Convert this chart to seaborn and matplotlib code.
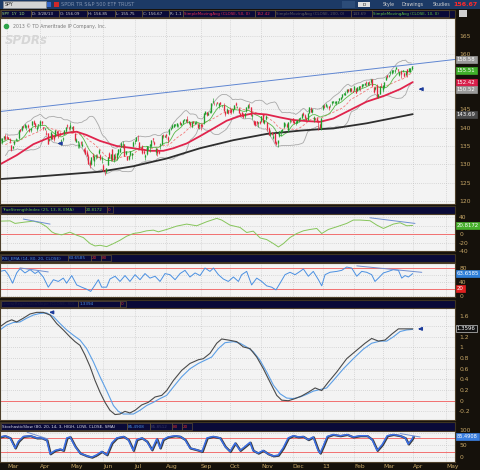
import matplotlib
matplotlib.use('Agg')
import numpy as np
import pandas as pd
import matplotlib.pyplot as plt
import matplotlib.patheffects as pe
from matplotlib.patches import Rectangle
import seaborn as sns

# ---------------- data ----------------
# trading-day index: 0 = 1 Mar 2012, first candle is 24 Feb 2012
first_day = -4
open_ = [136.9, 136.2, 137.1, 137.7,
         137.4, 137.3, 136.8, 135.2, 134.5, 135.6, 136.6, 136.8, 137.2, 139.4, 139.3, 140.4, 140.2, 140.1, 140.5, 139.5, 139.3, 140.6, 141.7, 141.1, 139.6, 140.8,
         140.6, 141.6, 140.2, 139.6, 138.4, 138.3, 136.6, 136.9, 138.1, 137.5, 137.6, 138.9, 138.5, 138.4, 136.4, 136.8, 138.3, 139.1, 140.6, 140.1,
         139.8, 140.0, 140.3, 138.3, 136.1, 136.1, 134.9, 136.0, 134.9, 134.2, 133.8, 133.2, 132.3, 130.5, 130.0, 132.4, 131.0, 132.4, 132.3, 133.2, 132.4, 131.5,
         129.6, 128.3, 127.9, 129.8, 133.1, 131.4, 134.1, 131.3, 132.2, 131.7, 132.9, 133.5, 134.8, 135.4, 135.3, 132.8, 132.3, 131.5, 132.6, 132.6, 135.1,
         136.3, 136.5, 136.9, 136.0, 134.4, 134.8, 133.5, 132.1, 132.8, 134.4, 135.0, 135.0, 137.0, 136.1, 133.4, 134.2, 133.5, 135.3, 135.6, 137.8, 137.5,
         138.2, 137.3, 138.2, 139.6, 140.0, 140.3, 140.7, 140.4, 140.9, 141.3, 140.8, 141.2, 142.2, 141.9, 142.3, 141.4, 141.3, 140.3, 141.7, 141.1, 141.4, 140.9, 140.4,
         140.8, 140.5, 141.2, 143.8, 144.1, 143.5, 144.3, 144.4, 147.0, 146.7, 146.4, 146.8, 146.0, 146.9, 145.8, 146.2, 144.3, 144.1, 144.6,
         144.4, 144.9, 144.6, 145.2, 146.5, 145.6, 145.3, 143.9, 144.1, 143.3, 143.2, 144.6, 145.4, 145.9, 145.6, 143.2, 141.8, 141.6, 141.6, 141.3, 141.7,
         141.7, 143.5, 141.4, 142.3, 141.3, 139.7, 137.9, 138.6, 137.3, 138.4, 135.9, 135.7, 137.6, 138.8, 139.1, 140.1, 140.9, 140.9, 139.4, 141.8, 142.1,
         142.5, 141.6, 141.3, 141.4, 142.1, 142.3, 142.7, 143.9, 143.4, 142.5, 142.2, 144.0, 145.3, 144.4, 142.0, 142.6, 142.6, 141.8, 141.0, 139.7,
         145.1, 145.9, 145.9, 145.9, 145.7, 145.9, 146.8, 147.0, 146.8, 146.6, 146.9, 147.6, 147.9, 148.4, 149.2, 149.0, 149.6, 150.3, 149.9, 150.6, 149.9,
         150.3, 150.6, 150.0, 150.5, 151.2, 151.2, 151.7, 151.7, 152.2, 151.7, 152.4, 152.4, 153.2, 150.9, 150.6, 151.6, 148.4, 149.3, 151.3,
         150.4, 151.1, 152.9, 154.2, 154.0, 155.0, 154.9, 155.5, 155.5, 156.1, 155.9, 154.3, 155.3, 155.5, 154.9, 154.4, 155.8, 155.4, 155.3, 156.1]
high = [137.2, 137.3, 137.7, 138.2,
        137.9, 137.5, 137.1, 135.4, 135.1, 136.5, 137.2, 137.0, 139.5, 139.7, 140.4, 140.6, 141.1, 140.6, 141.0, 139.9, 140.0, 141.7, 142.0, 141.4, 140.5, 140.9,
        142.0, 141.9, 140.3, 140.0, 139.5, 138.5, 137.0, 138.7, 138.2, 137.9, 139.3, 139.0, 139.5, 138.9, 136.8, 137.4, 139.3, 140.3, 140.9, 140.3,
        141.6, 140.3, 140.5, 138.4, 137.1, 136.5, 136.0, 136.5, 136.3, 134.6, 134.7, 134.0, 132.7, 131.3, 132.1, 133.0, 132.3, 132.8, 132.8, 134.1, 132.7, 132.3,
        130.0, 128.8, 129.1, 131.9, 133.3, 132.9, 134.3, 132.6, 133.0, 133.2, 134.2, 134.6, 136.0, 136.3, 135.6, 133.6, 132.4, 132.5, 133.5, 133.1, 136.3,
        136.7, 137.5, 137.9, 136.0, 134.7, 135.2, 134.1, 132.7, 134.9, 134.9, 135.6, 136.6, 137.3, 136.3, 134.5, 134.4, 134.0, 135.7, 138.0, 138.2, 138.1,
        138.4, 137.8, 139.7, 140.1, 141.0, 141.0, 141.1, 141.2, 141.1, 141.7, 141.2, 142.2, 142.3, 142.2, 143.1, 141.9, 141.5, 141.7, 141.9, 141.6, 141.7, 141.0, 141.3,
        141.0, 141.0, 143.9, 144.4, 144.4, 144.3, 144.6, 146.8, 148.1, 147.0, 146.7, 147.1, 146.6, 147.0, 146.3, 146.8, 144.4, 145.4, 144.9,
        145.6, 145.1, 145.2, 146.2, 147.1, 146.0, 145.5, 144.1, 144.3, 143.9, 144.1, 145.7, 146.4, 146.6, 145.6, 143.8, 142.0, 141.9, 141.9, 141.6, 141.8,
        143.1, 143.7, 142.1, 143.4, 141.4, 140.2, 139.3, 138.9, 138.7, 138.6, 136.4, 136.4, 139.2, 139.3, 139.6, 141.4, 141.3, 141.4, 141.5, 142.3, 142.2,
        142.6, 141.9, 142.1, 142.0, 142.7, 142.9, 144.0, 144.2, 143.8, 142.8, 143.9, 145.6, 145.6, 145.0, 143.2, 142.7, 142.8, 142.1, 141.4, 142.6,
        146.2, 146.4, 146.6, 146.1, 145.9, 146.4, 147.1, 147.2, 147.2, 147.2, 147.2, 148.2, 148.3, 149.1, 149.4, 149.9, 150.4, 150.5, 150.8, 150.8, 150.4,
        151.4, 150.9, 151.2, 151.3, 151.4, 151.9, 151.9, 152.3, 152.6, 152.4, 152.6, 153.3, 153.3, 151.2, 151.2, 152.0, 149.3, 151.5, 152.2,
        151.5, 152.5, 154.2, 154.3, 154.4, 155.4, 155.7, 155.8, 156.0, 156.5, 156.0, 155.5, 155.6, 155.8, 155.3, 155.3, 156.0, 156.3, 156.3, 156.9]
low = [136.5, 135.5, 136.7, 136.6,
       137.0, 136.8, 135.9, 133.6, 134.3, 135.4, 136.4, 136.3, 137.0, 138.7, 139.1, 140.0, 139.9, 139.5, 140.0, 138.8, 138.8, 140.4, 141.0, 139.9, 139.1, 139.8,
       140.0, 140.6, 139.3, 139.4, 138.1, 135.6, 136.4, 136.8, 136.8, 136.5, 137.5, 138.4, 137.3, 137.9, 135.3, 136.5, 138.2, 138.8, 140.0, 139.5,
       139.5, 139.6, 138.7, 136.5, 136.0, 134.6, 134.4, 135.3, 134.8, 133.4, 132.7, 132.2, 130.2, 129.1, 129.8, 131.1, 129.6, 131.4, 131.7, 132.7, 131.3, 130.3,
       128.1, 127.1, 127.7, 129.7, 131.7, 130.9, 131.0, 130.7, 131.2, 131.2, 132.5, 133.3, 134.7, 134.5, 132.3, 132.5, 131.1, 131.1, 132.4, 131.5, 134.8,
       135.5, 136.4, 136.4, 134.2, 133.9, 132.8, 132.7, 131.2, 132.6, 134.0, 133.5, 134.8, 136.2, 135.3, 132.5, 132.3, 132.8, 134.2, 135.4, 137.2, 137.4,
       137.1, 135.7, 138.0, 139.4, 139.8, 140.1, 140.5, 140.2, 140.3, 140.6, 140.6, 141.0, 141.8, 141.6, 141.4, 141.0, 140.4, 140.1, 141.2, 140.9, 141.0, 139.8, 139.7,
       139.4, 140.1, 141.0, 143.6, 143.3, 143.4, 143.9, 144.1, 146.6, 146.3, 146.0, 146.4, 145.4, 146.2, 145.6, 144.5, 143.2, 143.9, 143.7,
       144.0, 143.8, 144.0, 145.1, 145.9, 145.5, 144.0, 143.1, 143.2, 142.6, 142.7, 144.4, 145.3, 145.4, 143.2, 142.5, 140.8, 140.5, 140.7, 140.3, 140.9,
       141.6, 141.3, 141.0, 142.0, 139.0, 137.9, 137.6, 137.9, 137.0, 135.8, 135.3, 134.7, 137.5, 137.8, 138.8, 140.0, 140.4, 140.2, 138.9, 141.3, 141.6,
       141.4, 140.9, 140.6, 141.2, 141.6, 142.3, 142.7, 143.2, 142.3, 142.0, 142.1, 143.9, 144.3, 144.1, 141.5, 142.1, 141.5, 139.5, 139.9, 139.5,
       144.7, 145.3, 145.7, 145.4, 144.9, 145.7, 146.1, 146.6, 146.6, 146.3, 146.6, 147.4, 147.6, 148.0, 148.9, 148.9, 149.4, 149.8, 149.8, 149.8, 149.7,
       150.1, 149.4, 149.9, 150.3, 149.9, 151.1, 151.3, 151.6, 151.5, 151.6, 151.6, 152.3, 151.3, 149.4, 150.2, 148.1, 148.0, 149.1, 151.1,
       149.8, 150.9, 152.9, 153.5, 153.8, 154.4, 154.7, 154.9, 155.0, 156.0, 155.3, 154.1, 153.6, 155.1, 153.8, 154.3, 153.9, 155.2, 155.1, 155.8]
close = [136.9, 137.0, 137.5, 137.0,
         137.3, 136.9, 136.3, 133.9, 134.9, 136.3, 136.8, 136.8, 139.3, 139.2, 140.3, 140.3, 140.9, 140.4, 140.2, 139.2, 139.7, 141.6, 141.1, 140.4, 140.2, 140.8,
         141.8, 141.3, 139.9, 139.8, 138.2, 135.6, 136.7, 138.6, 136.9, 136.9, 139.2, 138.6, 137.8, 137.9, 136.6, 137.0, 139.2, 140.2, 140.4, 139.9,
         140.6, 140.1, 138.9, 136.6, 136.7, 136.2, 135.4, 135.7, 135.3, 133.6, 132.9, 132.4, 130.2, 129.7, 131.9, 132.0, 132.2, 132.4, 132.1, 133.7, 131.5, 131.5,
         128.2, 128.1, 128.9, 131.9, 131.8, 132.8, 131.1, 132.6, 131.7, 133.0, 134.1, 134.3, 135.6, 135.4, 132.4, 133.4, 131.3, 132.3, 133.4, 133.1, 136.1,
         136.5, 137.4, 136.8, 134.6, 134.3, 133.2, 133.2, 132.5, 134.8, 134.4, 135.4, 136.5, 136.9, 135.5, 134.3, 133.2, 133.1, 135.4, 137.9, 137.7, 137.7,
         137.6, 136.6, 139.4, 139.7, 140.6, 140.8, 140.9, 141.2, 141.0, 140.9, 141.1, 142.1, 142.2, 142.2, 141.7, 141.7, 140.6, 141.5, 141.4, 141.3, 141.4, 139.9, 140.7,
         140.5, 140.4, 143.8, 144.3, 143.4, 143.9, 144.3, 146.6, 147.2, 146.6, 146.4, 146.6, 146.5, 146.4, 145.9, 144.5, 143.7, 145.0, 143.9,
         144.3, 144.4, 145.0, 146.1, 146.1, 145.6, 144.1, 143.2, 143.2, 142.8, 144.0, 145.6, 146.2, 145.8, 143.4, 143.4, 141.0, 140.6, 141.2, 141.3, 141.4,
         143.0, 141.6, 141.9, 143.0, 139.7, 138.0, 138.2, 138.2, 137.7, 135.9, 135.6, 136.4, 139.1, 139.2, 139.5, 141.4, 141.0, 140.3, 141.4, 142.0, 142.0,
         141.5, 141.3, 141.5, 141.9, 142.4, 142.5, 143.5, 143.5, 142.6, 142.1, 143.8, 145.4, 144.3, 145.0, 142.8, 142.4, 141.8, 141.6, 140.0, 142.4,
         146.1, 145.7, 146.4, 145.9, 145.5, 145.9, 147.1, 147.1, 147.0, 147.1, 147.1, 148.0, 148.3, 149.1, 149.4, 149.4, 150.3, 150.1, 150.7, 150.1, 149.7,
         151.2, 149.5, 151.0, 151.2, 151.0, 151.8, 151.8, 152.0, 152.1, 152.3, 152.1, 153.2, 151.3, 149.8, 151.1, 148.1, 149.1, 151.3, 151.2,
         151.4, 152.3, 153.8, 153.9, 154.3, 155.1, 155.7, 155.5, 155.7, 156.4, 155.8, 155.0, 154.5, 155.7, 154.0, 155.3, 154.8, 156.2, 156.2, 156.7]
# closes of the 16 sessions before the first candle (for the 10/20-day averages)
warmup_close = [132.0, 132.2, 134.4, 134.4, 134.6, 134.9, 135.3, 134.4, 135.3, 135.2, 134.6, 135.9, 136.2, 136.4, 136.0, 136.5]

sma50_day = [-4.6, 6.5, 17.6, 28.7, 39.7, 46.4, 53.0, 61.9, 73.0, 84.1, 95.1, 104.0, 110.7, 119.5, 128.4,
             137.3, 146.1, 155.0, 163.8, 172.7, 181.6, 190.4, 199.3, 208.2, 217.0, 228.1, 239.2, 250.3, 261.4, 269.8]
sma50_val = [130.0, 132.5, 135.5, 137.4, 138.6, 138.9, 138.0, 136.4, 135.0, 134.4, 133.7, 133.7, 134.4, 135.7, 137.7,
             139.8, 141.9, 143.2, 143.9, 143.6, 142.8, 142.1, 141.8, 141.6, 142.5, 144.8, 147.1, 148.6, 150.5, 152.42]
sma200_day = [-4.6, 17.6, 39.7, 61.9, 84.1, 106.2, 128.4, 150.6, 172.7, 194.9, 208.2, 217.0, 239.2, 250.3, 261.4, 269.8]
sma200_val = [126.0, 126.6, 127.3, 128.0, 129.5, 131.6, 134.4, 136.6, 138.3, 139.2, 139.6, 139.8, 141.2, 142.1, 143.0, 143.69]
trend_day = [-4.6, 297.9]
trend_val = [144.4, 158.6]

tsi_day = [-4.6, 2.1, 5.4, 12.0, 17.6, 22.0, 26.4, 29.8, 32.0, 36.4, 41.9, 46.4, 50.8, 55.3, 58.6, 61.9, 66.3, 70.8, 75.2, 79.6,
           84.1, 88.5, 92.9, 97.4, 100.7, 106.2, 112.9, 119.5, 126.2, 132.8, 139.5, 142.8, 148.3, 155.0, 159.4, 163.8, 168.3, 172.7,
           177.2, 180.5, 183.8, 188.2, 192.7, 197.1, 201.5, 206.0, 209.3, 213.7, 219.3, 225.9, 230.3, 234.8, 241.4, 245.9, 250.3,
           256.9, 261.4, 265.8, 269.8]
tsi_val = [31, 31.7, 25.6, 28.8, 31, 27, 17.6, 5.6, 1.6, -1.6, 4.8, -2.4, -8, -22.4, -28, -26.4, -29.6, -22.4, -14.4, -4.8,
           1.6, 4, 8, 9.6, 5.6, 11.2, 19.2, 24, 20, 29.6, 37.6, 33.6, 21.6, 16, 4, 7.2, -8.8, -12.8,
           -22.4, -30.4, -22.4, -8, 1.6, 8, 11.2, 13.6, 1.6, 11.2, 17.6, 25.6, 33.6, 33.6, 32, 21.6, 13.6,
           24, 27.2, 20, 20.8]
rsi_day = [-4.6, -1.3, 0.9, 3.8, 6.5, 8.7, 12.0, 15.4, 18.7, 20.9, 24.2, 27.5, 30.9, 34.2, 37.5, 39.7, 43.1, 46.4, 49.7, 53.0,
           55.7, 58.6, 60.8, 63.0, 66.3, 68.5, 71.9, 75.2, 78.5, 81.8, 85.2, 88.5, 91.8, 95.1, 98.5, 101.8, 105.1, 108.4, 111.8, 115.1,
           118.4, 121.7, 125.1, 128.4, 131.7, 135.0, 137.3, 140.6, 143.9, 147.2, 150.6, 153.9, 156.1, 159.4, 162.7, 166.1, 169.4, 172.7, 176.0, 178.9,
           181.6, 184.9, 188.2, 191.6, 194.9, 197.1, 200.4, 203.7, 207.1, 209.3, 211.5, 214.8, 219.3, 222.6, 225.9, 229.2, 232.6, 235.9, 239.2, 242.5,
           244.7, 247.0, 250.3, 253.6, 256.9, 260.3, 262.5, 264.7, 266.9, 269.8]
rsi_val = [70, 73, 60.5, 36, 65.5, 78, 65.5, 75, 64, 70, 53.8, 24.5, 46, 41, 50.6, 36, 58, 31, 24.5, 18.7,
           12.3, 31, 46, 24.5, 24.5, 48, 56, 41, 58, 41, 60.5, 46, 63.7, 50.6, 56, 41, 63.7, 60.5, 46, 63.7,
           73, 53.8, 65.5, 58, 79.6, 70, 79.6, 60.5, 48, 41, 53.8, 41, 60.5, 70, 31, 50.6, 41, 28.3, 24.5, 16.7,
           36, 60.5, 67.4, 60.5, 70, 77, 56, 70, 46, 28.3, 60.5, 67.4, 70, 73, 82.5, 79.6, 56, 70, 67.4, 60.5,
           41, 50.6, 65.5, 70, 75, 73, 50.6, 58, 53.8, 63.7]
osc_day = [-4.6, -0.2, 3.2, 6.5, 10.9, 15.4, 19.8, 24.2, 28.7, 33.1, 37.5, 41.9, 45.3, 48.6, 51.9, 55.3, 58.6, 61.9, 65.2, 68.5,
           71.9, 75.2, 78.5, 81.8, 85.2, 89.6, 94.0, 98.5, 102.9, 106.2, 110.7, 116.2, 121.7, 127.3, 130.6, 135.0, 139.5, 142.8, 147.2, 152.8,
           157.2, 161.6, 166.1, 170.5, 174.9, 179.4, 182.7, 187.1, 191.6, 196.0, 200.4, 204.9, 209.3, 213.7, 219.3, 225.9, 232.6, 238.1, 242.5, 247.0,
           251.4, 255.8, 260.3, 264.7, 269.8]
osc_val = [1.39, 1.48, 1.52, 1.48, 1.55, 1.63, 1.66, 1.66, 1.61, 1.45, 1.33, 1.20, 1.11, 1.04, 0.86, 0.64, 0.38, 0.16, -0.03, -0.18,
           -0.26, -0.25, -0.20, -0.23, -0.18, -0.08, -0.03, 0.07, 0.10, 0.19, 0.38, 0.57, 0.70, 0.77, 0.79, 0.89, 1.08, 1.16, 1.14, 1.11,
           1.01, 0.98, 0.82, 0.60, 0.35, 0.10, 0.01, 0.0, 0.04, 0.09, 0.16, 0.24, 0.19, 0.35, 0.54, 0.79, 0.95, 1.08, 1.17, 1.12,
           1.14, 1.25, 1.35, 1.35, 1.35]
osc_sig_day = [-4.6, -0.2, 4.3, 8.7, 13.1, 17.6, 22.0, 26.4, 30.9, 35.3, 39.7, 44.2, 48.6, 53.0, 57.5, 61.9, 66.3, 70.8, 74.1, 77.4,
               80.7, 84.1, 88.5, 92.9, 97.4, 101.8, 106.2, 110.7, 116.2, 121.7, 127.3, 131.7, 136.1, 140.6, 145.0, 150.6, 155.0, 159.4, 163.8, 168.3,
               172.7, 177.2, 181.6, 186.0, 190.4, 194.9, 199.3, 203.7, 208.2, 212.6, 217.0, 223.7, 230.3, 237.0, 242.5, 248.1, 252.5, 256.9, 261.4, 265.8, 269.8]
osc_sig_val = [1.33, 1.42, 1.47, 1.48, 1.55, 1.61, 1.64, 1.65, 1.58, 1.45, 1.33, 1.23, 1.14, 0.98, 0.73, 0.45, 0.19, -0.09, -0.20, -0.25,
               -0.25, -0.25, -0.18, -0.09, -0.03, 0.04, 0.10, 0.26, 0.45, 0.60, 0.70, 0.76, 0.82, 0.98, 1.09, 1.11, 1.08, 1.01, 0.92, 0.76,
               0.54, 0.29, 0.13, 0.05, 0.04, 0.07, 0.12, 0.18, 0.21, 0.24, 0.38, 0.60, 0.79, 0.97, 1.08, 1.12, 1.12, 1.20, 1.30, 1.33, 1.34]
stoch_day = [-4.6, -1.3, 2.1, 5.4, 7.6, 10.9, 15.4, 19.8, 23.1, 26.5, 28.7, 32.0, 35.3, 37.5, 39.8, 42.0, 45.3, 48.6, 53.1, 56.4,
             59.7, 63.0, 66.4, 69.7, 73.0, 77.4, 80.7, 84.0, 86.3, 89.6, 93.0, 96.3, 99.6, 101.8, 103.8, 107.1, 111.8, 115.1, 118.4, 121.7,
             126.4, 129.7, 133.0, 137.0, 141.7, 145.0, 148.3, 151.7, 155.0, 158.3, 161.6, 163.6, 167.0, 170.3, 173.6, 177.0, 180.3, 183.6, 187.0, 190.3,
             193.6, 196.9, 200.3, 203.6, 206.9, 208.2, 210.2, 212.9, 216.8, 221.5, 226.1, 230.1, 234.8, 239.4, 242.8, 246.1, 249.4, 252.8, 256.8, 261.4,
             264.8, 266.8, 269.4, 270.1]
stoch_val = [83, 87.5, 79, 37.5, 65, 85, 88, 79, 79, 70, 13.8, 27.7, 33, 27.7, 79, 83, 44, 16.5, 5.4, 0,
             9.6, 23.5, 9.6, 58, 79, 85, 72, 27.7, 72, 79, 65, 30, 75, 37.5, 72, 83, 88, 85, 72, 37.5,
             30, 23.5, 79, 85, 79, 44, 23.5, 58, 27.7, 44, 61, 27.7, 16.5, 27.7, 13.8, 5.4, 8, 37.5, 79, 88,
             83, 85, 72, 83, 27.7, 16.5, 44, 85, 93, 88, 93, 83, 88, 88, 72, 27.7, 51, 88, 93, 88,
             79, 54, 75, 85]

# hand-drawn trend lines and arrows (day, value)
tsi_lines = [[(10.9, 36), (28.7, 24)], [(241.4, 39), (271.3, 25.6)]]
rsi_lines = [[(8.7, 80), (27.5, 68.4)], [(232.6, 85.9), (275.8, 67.3)]]
stoch_lines = [[(13.4, 102.5), (27.3, 75)], [(261.4, 97), (274.7, 83)]]
main_arrows = [(32.0, 135.7), (272.0, 150.5)]
osc_arrows = [(26.4, 1.66), (271.5, 1.35)]

month_day = [0, 22, 42, 64, 85, 106, 129, 148, 169, 190, 210, 231, 250, 270, 292]
month_label = ['Mar', 'Apr', 'May', 'Jun', 'Jul', 'Aug', 'Sep', 'Oct', 'Nov', 'Dec', '13', 'Feb', 'Mar', 'Apr', 'May']

# axis ticks (labels hidden where a value tag covers them in the reference)
price_ticks = [120, 125, 130, 135, 140, 145, 150, 155, 160, 165]
price_tick_labels = ['120', '125', '130', '135', '140', '145', '', '', '160', '165']
tsi_ticks = [-40, -20, 0, 20, 40]
tsi_tick_labels = ['-40', '-20', '0', '', '40']
rsi_ticks = [0, 20, 40, 60, 80]
rsi_tick_labels = ['0', '', '40', '', '80']
osc_ticks = [-0.2, 0, 0.2, 0.4, 0.6, 0.8, 1.0, 1.2, 1.4, 1.6]
osc_tick_labels = ['-0.2', '0', '0.2', '0.4', '0.6', '0.8', '1', '1.2', '', '1.6']
stoch_ticks = [0, 50, 100]
stoch_tick_labels = ['0', '50', '100']

price_tags = [(158.58, '158.58', '#9a9a9a'), (155.51, '155.51', '#3fae2a'), (152.42, '152.42', '#d81e4a'),
              (150.52, '150.52', '#9a9a9a'), (143.69, '143.69', '#4a4a4a')]

for a, b in [(open_, close), (high, low), (open_, high), (tsi_day, tsi_val), (rsi_day, rsi_val), (osc_day, osc_val),
             (osc_sig_day, osc_sig_val), (stoch_day, stoch_val), (sma50_day, sma50_val), (sma200_day, sma200_val)]:
    assert len(a) == len(b), (len(a), len(b))

# ---------------- style ----------------
sns.set_style('white')
plt.rcParams['font.family'] = ['DejaVu Sans']

W, H = 480, 470
BG = '#15110b'
PANEL = '#f3f3f3'
GRID = '#bdbdbd'
TICKC = '#c8a868'
XL = (-4.59, 297.9)

fig = plt.figure(figsize=(W / 100, H / 100), dpi=100, facecolor=BG)


def rect(x0, y0, x1, y1):
    return [x0 / W, 1 - y1 / H, (x1 - x0) / W, (y1 - y0) / H]


ov = fig.add_axes([0, 0, 1, 1])
ov.set_xlim(0, W)
ov.set_ylim(H, 0)
ov.axis('off')


def box(x0, y0, x1, y1, fc, ec='none', lw=0.6):
    ov.add_patch(Rectangle((x0, y0), x1 - x0, y1 - y0, fc=fc, ec=ec, lw=lw))


def header(y0, y1, cells, fs=3.0):
    box(0, y0, 455, y1, '#0a0a38', '#3e3420', 0.8)
    for x0, x1, s, c in cells:
        box(x0, y0 + 0.8, x1, y1 - 0.8, 'none', '#5a4c34', 0.5)
        ov.text(x0 + 1.2, (y0 + y1) / 2 + 0.3, s, color=c, fontsize=fs, va='center', ha='left')


def panel(y0, y1, ylim, ticks, labels):
    ax = fig.add_axes(rect(0, y0, 455, y1))
    ax.set_facecolor(PANEL)
    ax.set_xlim(*XL)
    ax.set_ylim(*ylim)
    ax.set_xticks(month_day)
    ax.set_xticklabels([])
    ax.set_yticks(ticks)
    ax.set_yticklabels(labels)
    ax.yaxis.tick_right()
    ax.tick_params(axis='y', length=0, pad=3, labelsize=4.3, labelcolor=TICKC)
    ax.tick_params(axis='x', length=0)
    ax.grid(True, color=GRID, ls=(0, (1, 2)), lw=0.5)
    for s in ax.spines.values():
        s.set_color('#4d3f2a')
        s.set_linewidth(0.8)
    return ax


def tag(ax, y, s, fc, tc='white', ec=None, fs=3.9):
    ax.text(1.004, y, s, transform=ax.get_yaxis_transform(), fontsize=fs, color=tc, va='center', ha='left',
            bbox=dict(boxstyle='square,pad=0.2', fc=fc, ec=ec or fc, lw=0.5), clip_on=False, zorder=10)


def line(ax, x, y, color, lw, **kw):
    sns.lineplot(x=x, y=y, ax=ax, color=color, lw=lw, legend=False, estimator=None, sort=False, **kw)
    ax.set_xlabel('')
    ax.set_ylabel('')


# ---------- top toolbar and info bar ----------
box(0, 0, W, 9, '#1c3a66')
box(3, 1.2, 46, 7.6, '#d4d4d4', '#8a8a8a', 0.4)
ov.text(4.5, 4.6, 'SPY', fontsize=3.4, color='#202020', va='center')
box(47, 1.5, 51, 7.3, '#3566c8')
box(54, 1.8, 59, 7.0, '#d02828')
ov.text(61, 4.6, 'SPDR TR S&P 500 ETF TRUST', fontsize=3.6, color='#8092b0', va='center')
box(342, 1.2, 355, 7.6, '#2c4c78')
box(358, 1.5, 370, 7.3, '#e0e0e0')
ov.text(364, 4.6, 'D', fontsize=3.2, color='#202020', va='center', ha='center')
ov.text(383, 4.6, 'Style', fontsize=3.4, color='#d0d0d0', va='center')
ov.text(402, 4.6, 'Drawings', fontsize=3.4, color='#d0d0d0', va='center')
ov.text(433, 4.6, 'Studies', fontsize=3.4, color='#d0d0d0', va='center')
ov.text(453, 4.8, '156.67', fontsize=4.6, color='#ff2a2a', va='center', fontweight='bold')

header(9.5, 17.5, [
    (1, 31, 'SPY  1Y  1D', '#9be07a'),
    (31, 59, 'D: 3/28/13', '#c8c8c8'),
    (59, 87, 'O: 156.09', '#c8c8c8'),
    (87, 115, 'H: 156.85', '#c8c8c8'),
    (115, 142, 'L: 155.75', '#c8c8c8'),
    (142, 169, 'C: 156.67', '#c8c8c8'),
    (169, 183, 'R: 1.1', '#c8c8c8'),
    (183, 255, 'SimpleMovingAvg (CLOSE, 50, 0)', '#e02a52'),
    (255, 275, '152.42', '#e02a52'),
    (275, 351, 'SimpleMovingAvg (CLOSE, 200, 0)', '#5a5a5a'),
    (351, 372, '143.69', '#5a5a5a'),
    (372, 449, 'SimpleMovingAvg (CLOSE, 10, 0)', '#5cc040'),
], fs=2.9)
box(459, 10, 467, 17, '#d0d0d0')

# ---------- main price panel ----------
ax = panel(18, 204, (119.2, 169.9), price_ticks, price_tick_labels)
days = np.arange(first_day, first_day + len(close))
o = np.array(open_)
c = np.array(close)
up = c >= o
colors = np.where(up, '#1f9e2c', '#e3263f')
ax.vlines(days, low, high, colors=colors, lw=0.45, zorder=3)
ax.vlines(days, np.minimum(o, c), np.maximum(o, c) + 0.12, colors=colors, lw=0.95, zorder=3)

allc = pd.Series(warmup_close + close, dtype=float)
alld = np.arange(first_day - len(warmup_close), first_day + len(close))
sma10 = allc.rolling(10).mean()
mid20 = allc.rolling(20).mean()
sd20 = allc.rolling(20).std(ddof=1)
ok = mid20.notna().values
line(ax, alld[ok], (mid20 + 2 * sd20).values[ok], '#a9a9a9', 0.6)
line(ax, alld[ok], (mid20 - 2 * sd20).values[ok], '#a9a9a9', 0.6)
line(ax, alld[ok], mid20.values[ok], '#f27a7a', 0.6, linestyle=(0, (3, 2)))
ok10 = sma10.notna().values
line(ax, alld[ok10], sma10.values[ok10], '#58b848', 0.6)
line(ax, sma200_day, sma200_val, '#2e2e2e', 1.3)
line(ax, sma50_day, sma50_val, '#e0244c', 1.3)
line(ax, trend_day, trend_val, '#5f86d2', 0.7)
for d, v in main_arrows:
    ax.annotate('', xy=(d, v), xytext=(d + 5, v),
                arrowprops=dict(arrowstyle='-|>', color='#1d3c9c', lw=1.1, mutation_scale=4.5))
for v, s, fc in price_tags:
    tag(ax, v, s, fc)
ax.text(0.028, 0.955, '2013 \u00a9 TD Ameritrade IP Company, Inc.', transform=ax.transAxes, fontsize=3.3,
        color='#7a7a7a', va='center')
ax.scatter([0.013], [0.955], transform=ax.transAxes, s=9, color='#2da44a', zorder=5)
ax.text(0.01, 0.88, 'SPDRs', transform=ax.transAxes, fontsize=8.5, color='#d6d6d6', va='center',
        fontweight='bold', fontstyle='italic')

# ---------- TSI ----------
header(205.5, 213.5, [(1, 85, 'TrueStrengthIndex (25, 13, 8, EMA)', '#62c040'),
                      (85, 107, '20.8172', '#62c040'), (107, 113, '0', '#e03030')])
ax = panel(214, 251, (-38.4, 48), tsi_ticks, tsi_tick_labels)
ax.axhline(0, color='#f27070', lw=0.7)
line(ax, tsi_day, tsi_val, '#86c55a', 0.7)
for seg in tsi_lines:
    line(ax, [p[0] for p in seg], [p[1] for p in seg], '#6f8fd2', 0.7)
tag(ax, 20.8, '20.8172', '#48b02c')

# ---------- RSI ----------
header(254, 262, [(1, 68, 'RSI_EMA (14, 80, 20, CLOSE)', '#4a8ee0'),
                  (68, 91, '63.6585', '#4a8ee0'), (91, 101, '20', '#e03030'), (101, 111, '80', '#e03030')])
ax = panel(262.5, 297, (-3.8, 95.6), rsi_ticks, rsi_tick_labels)
ax.axhline(80, color='#f27070', lw=0.7)
ax.axhline(20, color='#f27070', lw=0.7)
line(ax, rsi_day, rsi_val, '#4a90e2', 0.7)
for seg in rsi_lines:
    line(ax, [p[0] for p in seg], [p[1] for p in seg], '#6f8fd2', 0.7)
tag(ax, 63.66, '63.6585', '#2f7fd8')
tag(ax, 20, '20', '#e02020')

# ---------- oscillator ----------
header(300, 308, [(1, 78, 'LinearRegressionSlope (CLOSE, 80)', '#1a1a40'),
                  (78, 120, '1.3394', '#4a8ee0'), (120, 126, '0', '#e03030')])
ax = panel(308, 419.5, (-0.353, 1.742), osc_ticks, osc_tick_labels)
ax.axhline(0, color='#f27070', lw=0.7)
line(ax, osc_sig_day, osc_sig_val, '#5c9fe6', 0.8)
line(ax, osc_day, osc_val, '#4a4a4a', 0.8)
for d, v in osc_arrows:
    ax.annotate('', xy=(d, v), xytext=(d + 5, v),
                arrowprops=dict(arrowstyle='-|>', color='#1d3c9c', lw=1.1, mutation_scale=4.5))
tag(ax, 1.3596, '1.3596', '#111111', ec='#c8c8c8')

# ---------- stochastic ----------
header(422, 430.5, [(1, 127, 'StochasticSlow (80, 20, 14, 3, HIGH, LOW, CLOSE, SMA)', '#d8d8e8'),
                    (127, 150, '85.4908', '#4a8ee0'), (150, 172, '85.8512', '#3a3a6a'),
                    (172, 182, '80', '#e03030'), (182, 192, '20', '#e03030')])
ax = panel(430.5, 462, (-19.6, 109.6), stoch_ticks, stoch_tick_labels)
ax.axhline(80, color='#f27070', lw=0.7)
ax.axhline(20, color='#f27070', lw=0.7)
line(ax, stoch_day, stoch_val, '#3b6fe6', 1.1,
     path_effects=[pe.Stroke(linewidth=1.6, foreground='#3a3a3a', offset=(0.5, -0.3)), pe.Normal()])
for seg in stoch_lines:
    line(ax, [p[0] for p in seg], [p[1] for p in seg], '#6f8fd2', 0.7)
tag(ax, 85.49, '85.4908', '#3b7fe0', fs=3.6)
for t in ax.get_yticklabels():
    if t.get_text() == '100':
        t.set_va('bottom')
ax.set_xticklabels(month_label)
ax.tick_params(axis='x', labelsize=4.3, labelcolor=TICKC, pad=1.5)
for t in ax.get_xticklabels():
    t.set_ha('left')

fig.savefig('out.png', dpi=100, facecolor=BG)
